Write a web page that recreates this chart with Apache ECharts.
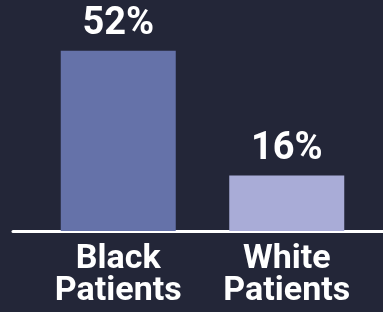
<!DOCTYPE html>
<html>
<head>
<meta charset="utf-8">
<style>
  html, body { margin: 0; padding: 0; background: #232638; }
  #main { width: 383px; height: 312px; }
</style>
<script src="https://cdn.jsdelivr.net/npm/echarts@6/dist/echarts.min.js"></script>
</head>
<body>
<div id="main"></div>
<script>
var categories = ['Black\nPatients', 'White\nPatients'];
var values = [52, 16];
var barColors = ['#6572a9', '#a9acd7'];

var myChart = echarts.init(document.getElementById('main'));

var option = {
  backgroundColor: '#232638',
  animation: false,
  grid: [
    { left: 34, right: 12, top: 23, bottom: 81 },
    { left: 13, right: 0, top: 23, bottom: 81 }
  ],
  xAxis: [
    {
      type: 'category',
      gridIndex: 0,
      data: categories,
      axisLine: { show: false },
      axisTick: { show: false },
      axisLabel: {
        color: '#ffffff',
        fontFamily: 'Roboto',
        fontWeight: 'bold',
        fontSize: 34,
        lineHeight: 32,
        margin: 12
      }
    },
    {
      type: 'value',
      gridIndex: 1,
      min: 0,
      max: 1,
      axisLine: { show: true, lineStyle: { color: '#ffffff', width: 3 } },
      axisTick: { show: false },
      axisLabel: { show: false },
      splitLine: { show: false }
    }
  ],
  yAxis: [
    { type: 'value', gridIndex: 0, min: 0, max: 60, show: false, splitLine: { show: false } },
    { type: 'value', gridIndex: 1, min: 0, max: 60, show: false, splitLine: { show: false } }
  ],
  series: [
    {
      type: 'bar',
      xAxisIndex: 0,
      yAxisIndex: 0,
      barWidth: 115,
      data: values.map(function (v, i) {
        return { value: v, itemStyle: { color: barColors[i] } };
      }),
      label: {
        show: true,
        position: 'top',
        distance: 7,
        formatter: '{c}%',
        color: '#ffffff',
        fontFamily: 'Roboto',
        fontWeight: 'bold',
        fontSize: 38
      }
    }
  ]
};

myChart.setOption(option);
</script>
</body>
</html>
